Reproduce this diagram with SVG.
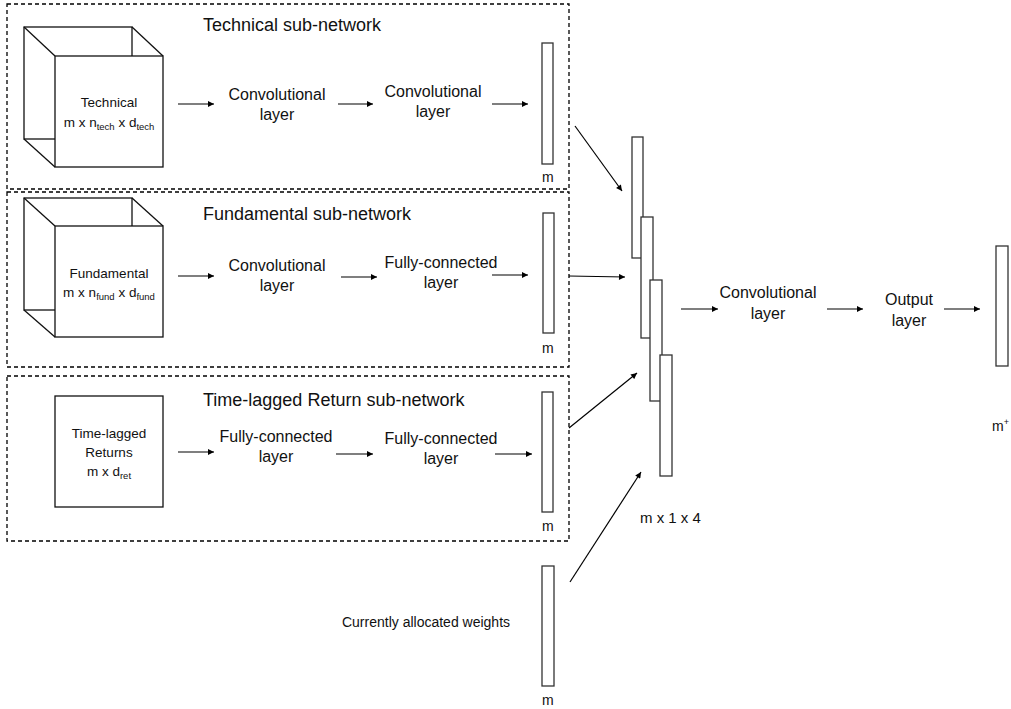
<svg xmlns="http://www.w3.org/2000/svg" width="1011" height="709" viewBox="0 0 1011 709">
<defs>
<marker id="ah" viewBox="0 0 10 10" refX="10" refY="5" markerWidth="7" markerHeight="6" markerUnits="userSpaceOnUse" orient="auto">
<path d="M0,0 L10,5 L0,10 z" fill="#000"/>
</marker>
</defs>
<style>
text{font-family:"Liberation Sans",Arial,sans-serif;fill:#111}
.title{font-size:18px}
.lbl{font-size:16px;text-anchor:middle}
.in{font-size:13.5px;text-anchor:middle}
.sm{font-size:14px}
.sub{font-size:9.5px}
.dash{fill:none;stroke:#000;stroke-width:1.3;stroke-dasharray:4 3}
.box{fill:#fff;stroke:#111;stroke-width:1.3}
.edge{fill:none;stroke:#111;stroke-width:1.3}
.bar{fill:#fff;stroke:#333;stroke-width:1.3}
.arr{fill:none;stroke:#000;stroke-width:1.2;marker-end:url(#ah)}
</style>
<rect width="1011" height="709" fill="#fff"/>

<g id="technical-subnetwork">
<rect class="dash" x="7" y="4" width="562" height="185"/>
<text class="title" x="203" y="31">Technical sub-network</text>
<g id="technical-input">
<rect class="edge" x="24" y="27" width="108" height="112"/>
<line class="edge" x1="24" y1="27" x2="55" y2="56"/>
<line class="edge" x1="132" y1="27" x2="163" y2="56"/>
<line class="edge" x1="24" y1="139" x2="55" y2="167"/>
<rect class="box" x="55" y="56" width="108" height="111"/>
<text class="in" x="109" y="107">Technical</text>
<text class="in" x="109" y="127">m x n<tspan class="sub" dy="3">tech</tspan><tspan dy="-3"> x d</tspan><tspan class="sub" dy="3">tech</tspan></text>
</g>
<g id="tech-conv1"><text class="lbl" x="277" y="100">Convolutional</text><text class="lbl" x="277" y="120">layer</text></g>
<g id="tech-conv2"><text class="lbl" x="433" y="97">Convolutional</text><text class="lbl" x="433" y="117">layer</text></g>
<g id="tech-out"><rect class="bar" x="542" y="43" width="11" height="121"/><text class="sm" x="542" y="182">m</text></g>
</g>

<g id="fundamental-subnetwork">
<rect class="dash" x="7" y="192" width="562" height="175"/>
<text class="title" x="203" y="220">Fundamental sub-network</text>
<g id="fundamental-input">
<rect class="edge" x="24" y="198" width="108" height="112"/>
<line class="edge" x1="24" y1="198" x2="55" y2="226"/>
<line class="edge" x1="132" y1="198" x2="163" y2="226"/>
<line class="edge" x1="24" y1="310" x2="55" y2="337"/>
<rect class="box" x="55" y="226" width="108" height="111"/>
<text class="in" x="109" y="278">Fundamental</text>
<text class="in" x="109" y="297">m x n<tspan class="sub" dy="3">fund</tspan><tspan dy="-3"> x d</tspan><tspan class="sub" dy="3">fund</tspan></text>
</g>
<g id="fund-conv"><text class="lbl" x="277" y="271">Convolutional</text><text class="lbl" x="277" y="291">layer</text></g>
<g id="fund-fc"><text class="lbl" x="441" y="268">Fully-connected</text><text class="lbl" x="441" y="288">layer</text></g>
<g id="fund-out"><rect class="bar" x="543" y="213" width="11" height="120"/><text class="sm" x="542" y="353">m</text></g>
</g>

<g id="return-subnetwork">
<rect class="dash" x="7" y="376" width="562" height="165"/>
<text class="title" x="203" y="406">Time-lagged Return sub-network</text>
<g id="return-input">
<rect class="box" x="55" y="396" width="108" height="111"/>
<text class="in" x="109" y="438">Time-lagged</text>
<text class="in" x="109" y="457">Returns</text>
<text class="in" x="109" y="476">m x d<tspan class="sub" dy="3">ret</tspan></text>
</g>
<g id="ret-fc1"><text class="lbl" x="276" y="442">Fully-connected</text><text class="lbl" x="276" y="462">layer</text></g>
<g id="ret-fc2"><text class="lbl" x="441" y="444">Fully-connected</text><text class="lbl" x="441" y="464">layer</text></g>
<g id="ret-out"><rect class="bar" x="542" y="392" width="11" height="120"/><text class="sm" x="542" y="531">m</text></g>
</g>

<g id="weights">
<text class="sm" x="426" y="627" style="text-anchor:middle">Currently allocated weights</text>
<rect class="bar" x="542" y="566" width="12" height="120"/>
<text class="sm" x="542" y="705">m</text>
</g>

<g id="stack">
<rect class="bar" x="632" y="137" width="11" height="121"/>
<rect class="bar" x="641" y="217" width="12" height="121"/>
<rect class="bar" x="650" y="280" width="12" height="121"/>
<rect class="bar" x="660" y="355" width="12" height="121"/>
<text class="sm" x="640" y="523" style="font-size:15px">m x 1 x 4</text>
</g>

<g id="final-conv"><text class="lbl" x="768" y="298">Convolutional</text><text class="lbl" x="768" y="319">layer</text></g>
<g id="output-layer"><text class="lbl" x="909" y="305">Output</text><text class="lbl" x="909" y="326">layer</text></g>
<g id="output"><rect class="bar" x="996" y="246" width="12" height="120"/><text class="sm" x="992" y="431">m<tspan style="font-size:9px" dy="-6">+</tspan></text></g>

<g id="connectors">
<line class="arr" x1="178" y1="104" x2="214" y2="104"/>
<line class="arr" x1="338" y1="104" x2="373" y2="104"/>
<line class="arr" x1="492" y1="104" x2="528" y2="104"/>
<line class="arr" x1="178" y1="276" x2="214" y2="276"/>
<line class="arr" x1="341" y1="277" x2="377" y2="277"/>
<line class="arr" x1="492" y1="275" x2="528" y2="275"/>
<line class="arr" x1="178" y1="452" x2="214" y2="452"/>
<line class="arr" x1="336" y1="454" x2="373" y2="454"/>
<line class="arr" x1="495" y1="454" x2="532" y2="454"/>
<line class="arr" x1="575" y1="126" x2="622" y2="191"/>
<line class="arr" x1="569" y1="276" x2="625" y2="277"/>
<line class="arr" x1="569" y1="428" x2="637" y2="373"/>
<line class="arr" x1="570" y1="582" x2="641" y2="472"/>
<line class="arr" x1="681" y1="309" x2="718" y2="309"/>
<line class="arr" x1="827" y1="309" x2="863" y2="309"/>
<line class="arr" x1="944" y1="309" x2="980" y2="309"/>
</g>
</svg>
